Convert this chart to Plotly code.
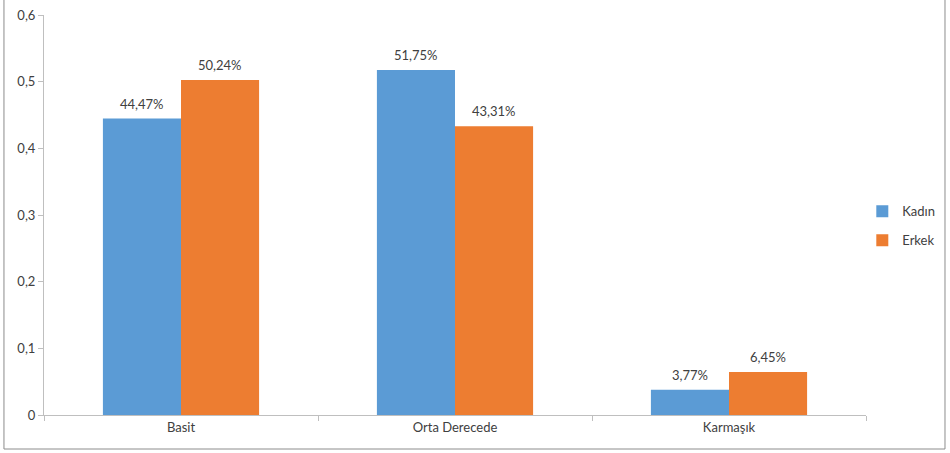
import plotly.graph_objects as go

categories = ["Basit", "Orta Derecede", "Karmaşık"]
kadin = [0.4447, 0.5175, 0.0377]
erkek = [0.5024, 0.4331, 0.0645]
y_ticks = [0, 0.1, 0.2, 0.3, 0.4, 0.5, 0.6]

FONT = "Lato, 'Open Sans', sans-serif"
TEXT = "#404040"
AXIS = "#bfbfbf"

fig = go.Figure()
for name, vals, color in (("Kadın", kadin, "#5B9BD5"), ("Erkek", erkek, "#ED7D31")):
    fig.add_trace(go.Bar(
        name=name, legendgroup=name, x=categories, y=vals, marker_color=color,
        marker_line_width=0,
    ))

# value labels above each bar (half a bar width left/right of the category centre)
for vals, shift in ((kadin, -39), (erkek, 39)):
    for cat, v in zip(categories, vals):
        fig.add_annotation(
            x=cat, y=v, text=f"{v * 100:.2f}%".replace(".", ","),
            xshift=shift, yshift=15, showarrow=False,
            font=dict(size=13, color=TEXT, family=FONT),
        )

fig.update_layout(
    width=950, height=453,
    margin=dict(l=44, r=84, t=15, b=38, autoexpand=False),
    barmode="group", bargap=0.43, bargroupgap=0,
    separators=",.",
    plot_bgcolor="white", paper_bgcolor="white",
    font=dict(family=FONT, size=13, color=TEXT),
    showlegend=True,
    legend=dict(x=0.9955, y=0.473, xanchor="left", yanchor="middle",
                traceorder="grouped", tracegroupgap=9,
                font=dict(size=13, color=TEXT), bgcolor="rgba(0,0,0,0)"),
    xaxis=dict(
        showline=True, linecolor=AXIS, linewidth=1,
        ticks="outside", tickson="boundaries", ticklen=5, tickcolor=AXIS,
        showgrid=False, tickfont=dict(size=13, color=TEXT),
    ),
    yaxis=dict(
        range=[0, 0.6], tickvals=y_ticks,
        showline=True, linecolor=AXIS, linewidth=1,
        ticks="outside", ticklen=5, tickcolor=AXIS,
        showgrid=False, zeroline=False, tickfont=dict(size=13, color=TEXT),
    ),
)

# chart frame
fig.add_shape(type="rect", xref="paper", yref="paper",
              x0=-0.0487, x1=1.0961, y0=-0.085, y1=1.06,
              line=dict(color="#8c8c8c", width=1), fillcolor="rgba(0,0,0,0)",
              layer="below")

fig.write_html("out.html")
